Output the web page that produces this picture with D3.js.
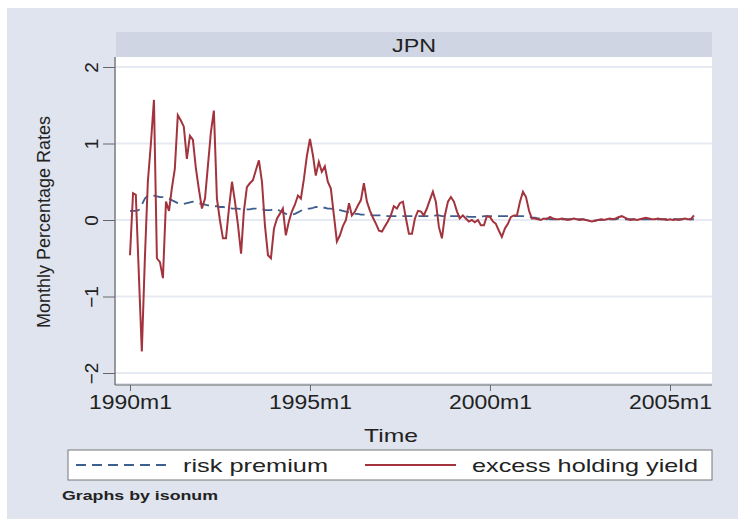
<!DOCTYPE html>
<html>
<head>
<meta charset="utf-8">
<script src="https://cdn.jsdelivr.net/npm/d3@7"></script>
<style>
  body { margin: 0; background: #fff; }
  text { font-family: "Liberation Sans", Arial, sans-serif; fill: #222; }
</style>
</head>
<body>
<div id="chart"></div>
<script>
var svgWidth = 738;
var svgHeight = 519;

// monthly series, starting 1990m1
var startYear = 1990;
var panelName = "JPN";
var yTicks = [-2, -1, 0, 1, 2];
var xTickYears = [1990, 1995, 2000, 2005];
var seriesNames = ["risk premium", "excess holding yield"];

var excessYield = [
  -0.46, 0.35, 0.33, -0.72, -1.72, -0.5, 0.5, 1.0, 1.57, -0.5,
  -0.55, -0.76, 0.24, 0.12, 0.41, 0.67, 1.37, 1.3, 1.22, 0.8,
  1.1, 1.05, 0.67, 0.4, 0.15, 0.28, 0.7, 1.15, 1.43, 0.28,
  0.0, -0.24, -0.24, 0.15, 0.5, 0.24, -0.07, -0.44, 0.11, 0.43,
  0.48, 0.52, 0.65, 0.78, 0.5, -0.07, -0.46, -0.5, -0.11, 0.02,
  0.08, 0.15, -0.2, -0.02, 0.11, 0.2, 0.32, 0.28, 0.54, 0.84,
  1.06, 0.84, 0.58, 0.76, 0.63, 0.7, 0.5, 0.41, 0.06, -0.28,
  -0.2, -0.08, 0.0, 0.22, 0.06, 0.11, 0.19, 0.26, 0.48, 0.24,
  0.12, 0.03, -0.05, -0.14, -0.15, -0.08, -0.02, 0.06, 0.18, 0.15,
  0.22, 0.24, 0.02, -0.18, -0.18, 0.02, 0.12, 0.11, 0.06, 0.15,
  0.26, 0.37, 0.24, -0.09, -0.24, 0.06, 0.24, 0.3, 0.24, 0.11,
  0.02, 0.06, 0.02, -0.02, 0.0, -0.03, 0.0, -0.07, -0.07, 0.05,
  0.04, -0.02, -0.05, -0.14, -0.22, -0.11, -0.05, 0.04, 0.06, 0.06,
  0.24, 0.37, 0.3, 0.12, 0.02, 0.02, 0.01, 0.0, 0.02, 0.01,
  0.04, 0.02, 0.01, 0.01, 0.02, 0.01, 0.0, 0.01, 0.02, 0.01,
  0.0, 0.01, 0.0, -0.01, -0.02, -0.01, 0.0, 0.01, 0.0, 0.01,
  0.02, 0.01, 0.02, 0.04, 0.05, 0.03, 0.01, 0.0, 0.01, 0.0,
  0.01, 0.02, 0.03, 0.02, 0.01, 0.01, 0.02, 0.01, 0.01, 0.0,
  0.01, 0.0, 0.01, 0.0, 0.01, 0.02, 0.01, 0.01, 0.06
];

var riskPremium = [
  0.12, 0.12, 0.12, 0.13, 0.20, 0.28, 0.32, 0.33, 0.32, 0.31,
  0.30, 0.30, 0.29, 0.28, 0.26, 0.24, 0.22, 0.21, 0.21, 0.22,
  0.23, 0.24, 0.23, 0.22, 0.21, 0.20, 0.19, 0.19, 0.18, 0.18,
  0.17, 0.17, 0.16, 0.16, 0.15, 0.15, 0.15, 0.14, 0.14, 0.14,
  0.14, 0.15, 0.15, 0.14, 0.14, 0.13, 0.13, 0.13, 0.14, 0.14,
  0.12, 0.10, 0.08, 0.07, 0.07, 0.08, 0.10, 0.12, 0.14, 0.15,
  0.15, 0.16, 0.17, 0.17, 0.16, 0.16, 0.15, 0.15, 0.14, 0.14,
  0.13, 0.12, 0.11, 0.10, 0.09, 0.08, 0.08, 0.07, 0.07, 0.07,
  0.07, 0.06, 0.06, 0.06, 0.06, 0.06, 0.05, 0.05, 0.05, 0.05,
  0.05, 0.05, 0.05, 0.05, 0.05, 0.05, 0.05, 0.05, 0.05, 0.05,
  0.05, 0.05, 0.06, 0.06, 0.05, 0.05, 0.05, 0.05, 0.05, 0.05,
  0.05, 0.05, 0.05, 0.04, 0.04, 0.04, 0.04, 0.04, 0.05, 0.05,
  0.05, 0.05, 0.05, 0.05, 0.05, 0.05, 0.05, 0.05, 0.05, 0.05,
  0.05, 0.05, 0.04, 0.04, 0.03, 0.03, 0.02, 0.02, 0.02, 0.02,
  0.01, 0.01, 0.01, 0.01, 0.01, 0.01, 0.01, 0.01, 0.01, 0.01,
  0.01, 0.01, 0.0, 0.0, -0.01, -0.01, 0.0, 0.0, 0.01, 0.01,
  0.01, 0.01, 0.01, 0.02, 0.02, 0.01, 0.01, 0.01, 0.01, 0.01,
  0.01, 0.01, 0.01, 0.01, 0.01, 0.01, 0.01, 0.01, 0.01, 0.01,
  0.01, 0.01, 0.01, 0.01, 0.01, 0.01, 0.01, 0.01, 0.01
];

var monthDate = i => new Date(Date.UTC(startYear, i, 1));

// plot box
var plot = { left: 116, right: 712, top: 57, bottom: 383 };

var svg = d3.select("#chart").append("svg")
    .attr("width", svgWidth)
    .attr("height", svgHeight);

// outer graph region
svg.append("rect")
    .attr("x", 7).attr("y", 8)
    .attr("width", svgWidth - 7).attr("height", svgHeight - 8)
    .attr("fill", "#dfe4ee");

// panel strip
svg.append("rect")
    .attr("x", plot.left).attr("y", 32)
    .attr("width", plot.right - plot.left).attr("height", 25)
    .attr("fill", "#cfd5e2");
svg.append("text")
    .attr("x", (plot.left + plot.right) / 2).attr("y", 52)
    .attr("text-anchor", "middle")
    .attr("font-size", 18)
    .attr("textLength", 44)
    .attr("lengthAdjust", "spacingAndGlyphs")
    .text(panelName);

svg.append("rect")
    .attr("x", plot.left).attr("y", plot.top)
    .attr("width", plot.right - plot.left).attr("height", plot.bottom - plot.top)
    .attr("fill", "#fff");

var xScale = d3.scaleUtc()
    .domain([monthDate(0), monthDate(180)])
    .range([130, 670]);

var yScale = d3.scaleLinear()
    .domain([-2, 2])
    .range([373, 67]);

// gridlines
svg.append("g")
  .selectAll("line")
  .data(yTicks)
  .enter()
  .append("line")
    .attr("x1", plot.left).attr("x2", plot.right)
    .attr("y1", d => yScale(d)).attr("y2", d => yScale(d))
    .attr("stroke", "#e6eaf2")
    .attr("stroke-width", 2);

// y axis
var yAxis = svg.append("g")
    .attr("transform", `translate(${plot.left - 1},0)`)
    .call(d3.axisLeft(yScale).tickValues(yTicks).tickSize(12).tickFormat(d3.format("d")));
yAxis.select(".domain").remove();
yAxis.selectAll(".tick line").attr("stroke", "#666");
yAxis.selectAll(".tick text")
    .attr("transform", "rotate(-90)")
    .attr("x", 0).attr("y", -17).attr("dy", 0)
    .attr("text-anchor", "middle")
    .attr("font-size", 19)
    .attr("font-family", "Liberation Sans, Arial, sans-serif")
    .attr("fill", "#222")
    .text(d => d < 0 ? "\u2212" + Math.abs(d) : d);
svg.append("line")
    .attr("x1", plot.left - 1).attr("x2", plot.left - 1)
    .attr("y1", plot.top).attr("y2", plot.bottom + 2)
    .attr("stroke", "#666").attr("stroke-width", 1.2);

// x axis
var xAxis = svg.append("g")
    .attr("transform", `translate(0,${plot.bottom + 2})`)
    .call(d3.axisBottom(xScale)
        .tickValues(xTickYears.map(y => new Date(Date.UTC(y, 0, 1))))
        .tickSize(6)
        .tickFormat(d => d.getUTCFullYear() + "m1"));
xAxis.select(".domain").remove();
xAxis.selectAll(".tick line").attr("stroke", "#666");
xAxis.selectAll(".tick text")
    .attr("y", 10)
    .attr("font-size", 20)
    .attr("textLength", 83)
    .attr("lengthAdjust", "spacingAndGlyphs")
    .attr("font-family", "Liberation Sans, Arial, sans-serif")
    .attr("fill", "#222");
svg.append("line")
    .attr("x1", plot.left - 1).attr("x2", plot.right)
    .attr("y1", plot.bottom + 2).attr("y2", plot.bottom + 2)
    .attr("stroke", "#666").attr("stroke-width", 1.2);

// axis titles
svg.append("text")
    .attr("transform", "translate(50,222) rotate(-90)")
    .attr("text-anchor", "middle")
    .attr("font-size", 19)
    .attr("textLength", 212)
    .attr("lengthAdjust", "spacingAndGlyphs")
    .text("Monthly Percentage Rates");

svg.append("text")
    .attr("x", 391).attr("y", 442)
    .attr("text-anchor", "middle")
    .attr("font-size", 19)
    .attr("textLength", 54)
    .attr("lengthAdjust", "spacingAndGlyphs")
    .text("Time");

// lines
var line = d3.line()
    .x((d, i) => xScale(monthDate(i)))
    .y(d => yScale(d));

svg.append("path")
    .datum(riskPremium)
    .attr("d", line)
    .attr("fill", "none")
    .attr("stroke", "#3d5f8f")
    .attr("stroke-width", 1.8)
    .attr("stroke-dasharray", "10,6");

svg.append("path")
    .datum(excessYield)
    .attr("d", line)
    .attr("fill", "none")
    .attr("stroke", "#a3343d")
    .attr("stroke-width", 2);

// legend
var legend = svg.append("g");
legend.append("rect")
    .attr("x", 68).attr("y", 450)
    .attr("width", 644).attr("height", 30)
    .attr("fill", "#fff")
    .attr("stroke", "#777");
legend.append("line")
    .attr("x1", 76).attr("x2", 170).attr("y1", 465).attr("y2", 465)
    .attr("stroke", "#3d5f8f").attr("stroke-width", 1.8)
    .attr("stroke-dasharray", "10,6");
legend.append("text")
    .attr("x", 183).attr("y", 472)
    .attr("font-size", 19)
    .attr("textLength", 145)
    .attr("lengthAdjust", "spacingAndGlyphs")
    .text(seriesNames[0]);
legend.append("line")
    .attr("x1", 365).attr("x2", 456).attr("y1", 465).attr("y2", 465)
    .attr("stroke", "#a3343d").attr("stroke-width", 2);
legend.append("text")
    .attr("x", 472).attr("y", 472)
    .attr("font-size", 19)
    .attr("textLength", 226)
    .attr("lengthAdjust", "spacingAndGlyphs")
    .text(seriesNames[1]);

svg.append("text")
    .attr("x", 62).attr("y", 500)
    .attr("font-size", 12)
    .attr("font-weight", "bold")
    .attr("fill", "#333")
    .attr("textLength", 156)
    .attr("lengthAdjust", "spacingAndGlyphs")
    .text("Graphs by isonum");
</script>
</body>
</html>
